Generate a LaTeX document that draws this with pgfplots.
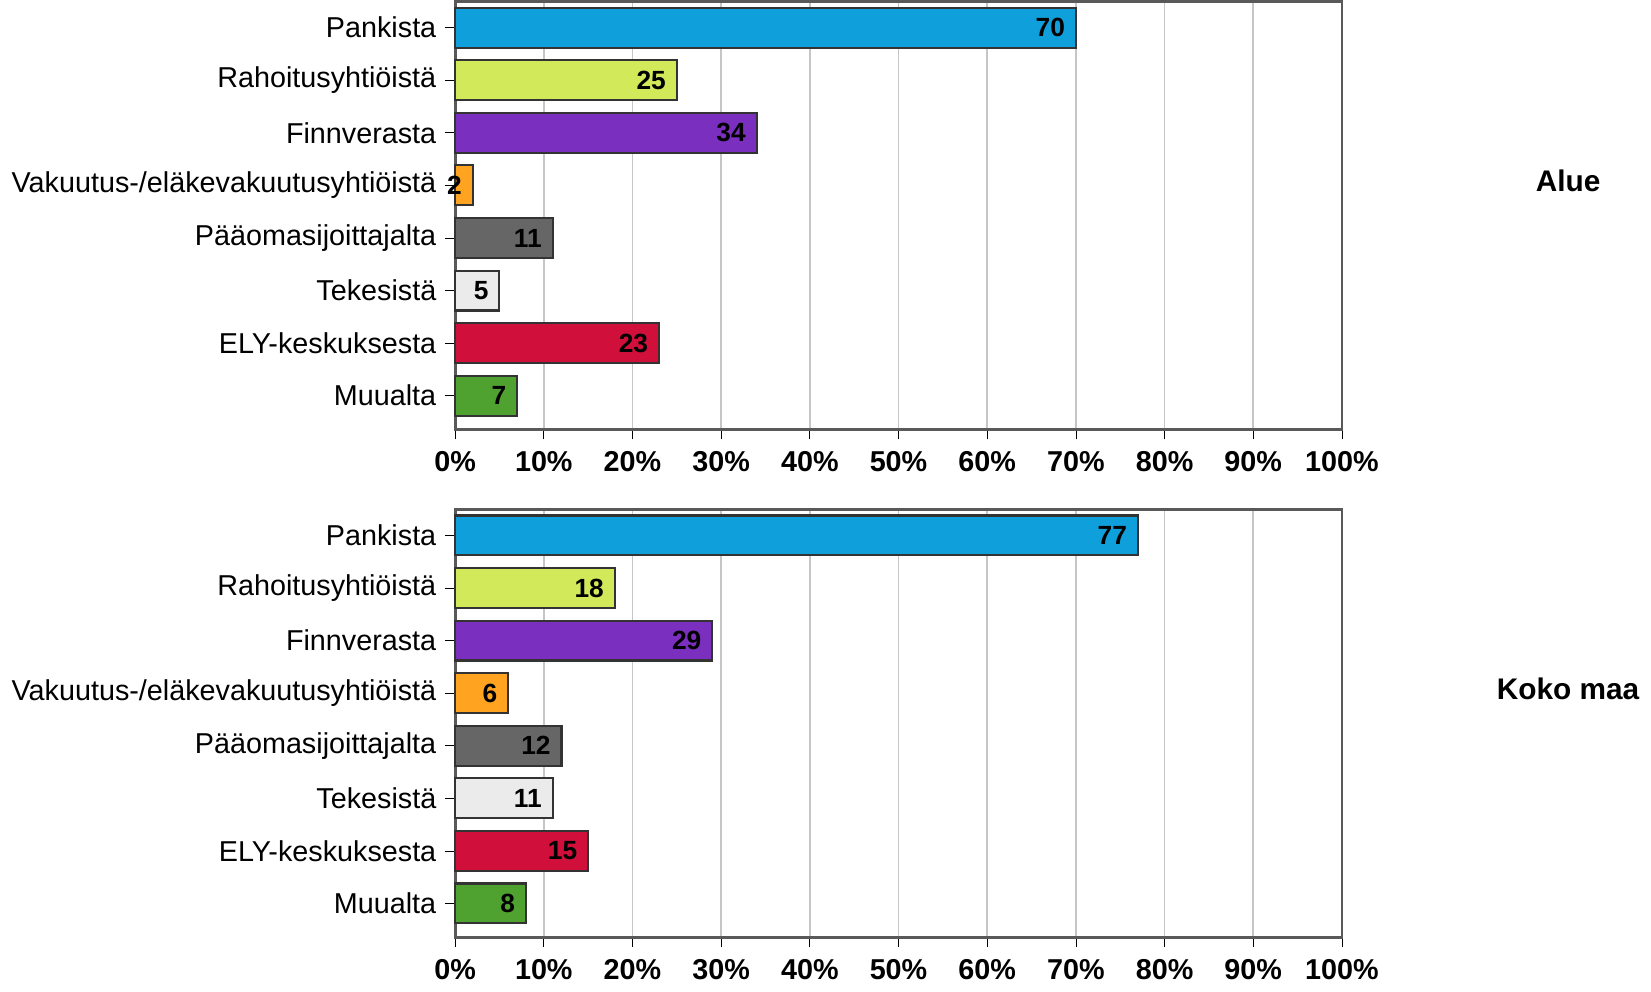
\documentclass[border=0pt]{standalone}
\usepackage{pgfplots}
\pgfplotsset{compat=1.18}
\usepackage{fontspec}
\setmainfont{Liberation Sans}
\definecolor{c1}{HTML}{0F9FDB}
\definecolor{c2}{HTML}{D2E95A}
\definecolor{c3}{HTML}{7B2FBE}
\definecolor{c4}{HTML}{FFA321}
\definecolor{c5}{HTML}{666666}
\definecolor{c6}{HTML}{EBEBEB}
\definecolor{c7}{HTML}{D0103A}
\definecolor{c8}{HTML}{4FA22F}
\pgfplotsset{
 panel/.style={
  width=8.89cm, height=4.29cm, scale only axis, clip=false,
  xbar, bar width=0.40cm, bar shift=0pt,
  xmin=0, xmax=100, ymin=0.5, ymax=8.64, y dir=reverse,
  xtick={0,10,...,100},
  xticklabel={\textbf{\pgfmathprintnumber{\tick}\%}},
  /pgf/number format/assume math mode=true,
  ytick={1,...,8},
  yticklabels={Pankista,Rahoitusyhtiöistä,Finnverasta,Vakuutus-/eläkevakuutusyhtiöistä,Pääomasijoittajalta,Tekesistä,ELY-keskuksesta,Muualta},
  tick align=outside, tick pos=left, major tick length=0.1cm,
  yticklabel style={xshift=1pt},
  xmajorgrids, grid style={gray!45, line width=0.5pt},
  axis line style={gray!70!black, line width=0.8pt},
  tick style={black},
  ticklabel style={font=\fontsize{8.2}{9}\selectfont},
  nodes near coords={\textbf{\pgfmathprintnumber{\pgfplotspointmeta}}},
  nodes near coords style={anchor=east, font=\fontsize{7.5}{8}\selectfont, xshift=0.5pt},
  every axis plot/.append style={draw=black!80, line width=0.6pt},
 }
}
\begin{document}
\begin{tikzpicture}
\begin{axis}[panel, name=top]
\addplot[fill=c1] coordinates {(70,1)};
\addplot[fill=c2] coordinates {(25,2)};
\addplot[fill=c3] coordinates {(34,3)};
\addplot[fill=c4] coordinates {(2,4)};
\addplot[fill=c5] coordinates {(11,5)};
\addplot[fill=c6] coordinates {(5,6)};
\addplot[fill=c7] coordinates {(23,7)};
\addplot[fill=c8] coordinates {(7,8)};
\node[font=\fontsize{8.5}{9}\selectfont\bfseries] at (rel axis cs:1.255,0.58) {Alue};
\end{axis}
\begin{axis}[panel, yshift=-5.09cm]
\addplot[fill=c1] coordinates {(77,1)};
\addplot[fill=c2] coordinates {(18,2)};
\addplot[fill=c3] coordinates {(29,3)};
\addplot[fill=c4] coordinates {(6,4)};
\addplot[fill=c5] coordinates {(12,5)};
\addplot[fill=c6] coordinates {(11,6)};
\addplot[fill=c7] coordinates {(15,7)};
\addplot[fill=c8] coordinates {(8,8)};
\node[font=\fontsize{8.5}{9}\selectfont\bfseries] at (rel axis cs:1.255,0.58) {Koko maa};
\end{axis}
\end{tikzpicture}
\end{document}
